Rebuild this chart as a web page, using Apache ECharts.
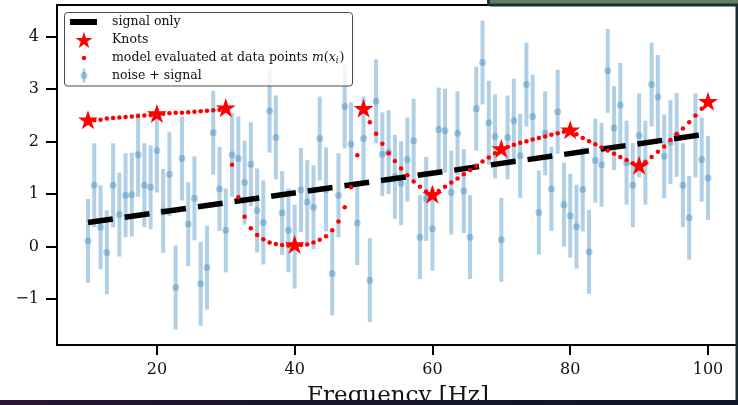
<!DOCTYPE html>
<html>
<head>
<meta charset="utf-8">
<script src="https://cdn.jsdelivr.net/npm/echarts@6/dist/echarts.min.js"></script>
<style>
html,body{margin:0;padding:0;background:#fff;}
#chart{width:738px;height:405px;}
</style>
</head>
<body>
<div id="chart"></div>
<script>
// ---- data ----
const dataX = [
  10.00,10.91,11.82,12.73,13.64,14.55,15.45,16.36,17.27,18.18,19.09,
  20.00,20.91,21.82,22.73,23.64,24.55,25.45,26.36,27.27,28.18,29.09,
  30.00,30.91,31.82,32.73,33.64,34.55,35.45,36.36,37.27,38.18,39.09,
  40.00,40.91,41.82,42.73,43.64,44.55,45.45,46.36,47.27,48.18,49.09,
  50.00,50.91,51.82,52.73,53.64,54.55,55.45,56.36,57.27,58.18,59.09,
  60.00,60.91,61.82,62.73,63.64,64.55,65.45,66.36,67.27,68.18,69.09,
  70.00,70.91,71.82,72.73,73.64,74.55,75.45,76.36,77.27,78.18,79.09,
  80.00,80.91,81.82,82.73,83.64,84.55,85.45,86.36,87.27,88.18,89.09,
  90.00,90.91,91.82,92.73,93.64,94.55,95.45,96.36,97.27,98.18,99.09,
  100.00
];
const dataY = [
  0.11,1.17,0.37,-0.11,1.17,0.61,0.98,0.99,1.75,1.17,1.13,
  1.83,0.68,1.38,-0.78,1.68,0.43,0.92,-0.71,-0.40,2.17,1.10,
  0.31,1.75,1.68,1.22,1.57,0.69,0.46,2.59,2.08,0.64,0.31,
  0.00,1.08,0.85,0.75,2.06,1.09,-0.51,0.98,2.67,1.95,0.45,
  2.06,-0.64,2.77,1.76,1.80,1.33,1.21,1.66,2.02,0.18,0.91,
  0.34,2.23,2.21,1.03,2.16,1.06,0.18,2.63,3.51,2.36,2.10,
  0.13,2.08,2.40,1.73,3.09,2.48,0.65,2.16,1.10,2.57,0.80,
  0.59,0.38,1.09,-0.10,1.64,1.56,3.35,2.26,2.70,1.60,1.17,
  2.12,1.60,3.09,2.85,1.72,1.99,2.13,1.17,0.55,2.12,1.66,
  1.31
];
const yErr = 0.8;
const modelY = [
  2.40,2.41,2.42,2.44,2.45,2.46,2.47,2.48,2.49,2.50,2.51,
  2.52,2.53,2.54,2.55,2.55,2.56,2.57,2.58,2.59,2.60,2.61,
  2.63,1.56,0.94,0.57,0.35,0.22,0.14,0.08,0.05,0.03,0.02,
  0.02,0.03,0.04,0.08,0.13,0.20,0.31,0.48,0.75,1.13,1.74,
  2.62,2.37,2.15,1.96,1.78,1.63,1.49,1.36,1.24,1.14,1.05,
  0.98,1.06,1.14,1.22,1.30,1.38,1.46,1.54,1.62,1.70,1.78,
  1.85,1.90,1.94,1.98,2.01,2.04,2.07,2.10,2.13,2.16,2.19,
  2.21,2.14,2.07,2.01,1.95,1.89,1.83,1.77,1.71,1.65,1.59,
  1.53,1.61,1.71,1.81,1.91,2.03,2.14,2.25,2.37,2.50,2.63,
  2.75
];
const knotX = [10,20,30,40,50,60,70,80,90,100];
const knotY = [2.40,2.52,2.63,0.02,2.62,0.98,1.85,2.21,1.53,2.75];
const signalX = [10,100];
const signalY = [0.46,2.15];
const xTicks = [20,40,60,80,100];
const xTickLabels = ['20','40','60','80','100'];
const yTicks = [-1,0,1,2,3,4];
const yTickLabels = ['\u22121','0','1','2','3','4'];
const legendNames = ['signal only','Knots','model evaluated at data points ','noise + signal'];
const xAxisName = 'Frequency [Hz]';

// ---- styling ----
const FONT = '"DejaVu Serif", serif';
const BLUE = 'rgba(31,119,180,0.35)';
const LEG_FONT = '12.5px ' + FONT;

function starVertices(R){
  const v = [];
  for (let k = 0; k < 10; k++) {
    const r = (k % 2 === 0) ? R : R * 0.382;
    const a = -Math.PI / 2 + k * Math.PI / 5;
    v.push([r * Math.cos(a), r * Math.sin(a)]);
  }
  return v;
}
function starPathData(){
  return starVertices(1).map((p, k) => (k ? 'L' : 'M') + p[0].toFixed(4) + ',' + p[1].toFixed(4)).join('') + 'Z';
}
const STAR = starPathData();

const pts = dataX.map((x, i) => [x, dataY[i], yErr]);
const model = dataX.map((x, i) => [x, modelY[i]]);
const knots = knotX.map((x, i) => [x, knotY[i]]);
const signal = signalX.map((x, i) => [x, signalY[i]]);

const chart = echarts.init(document.getElementById('chart'), null, {renderer: 'canvas'});

const legendRowsY = [22, 40, 58, 75.5];
const legendTextX = 112;
const iconX = 84;

const option = {
  animation: false,
  backgroundColor: '#ffffff',
  grid: {
    left: 57, top: 5, width: 682, height: 340,
    show: true, borderColor: '#000', borderWidth: 2, backgroundColor: 'transparent',
    containLabel: false, outerBoundsMode: 'none'
  },
  xAxis: {
    type: 'value', min: 5.5, max: 104.5,
    name: xAxisName, nameLocation: 'middle', nameGap: 40, nameMoveOverlap: false,
    nameTextStyle: {fontFamily: FONT, fontSize: 23, color: '#111'},
    axisLine: {show: true, onZero: false, lineStyle: {color: '#000', width: 2}},
    axisTick: {show: true, length: 10, customValues: xTicks, lineStyle: {color: '#000', width: 2}},
    axisLabel: {
      customValues: xTicks, margin: 17, fontFamily: FONT, fontSize: 16, color: '#111',
      formatter: v => { const k = xTicks.indexOf(v); return k >= 0 ? xTickLabels[k] : ''; }
    },
    splitLine: {show: false}
  },
  yAxis: {
    type: 'value', min: -1.875, max: 4.605,
    axisLine: {show: true, onZero: false, lineStyle: {color: '#000', width: 2}},
    axisTick: {show: true, length: 11, customValues: yTicks, lineStyle: {color: '#000', width: 2}},
    axisLabel: {
      customValues: yTicks, margin: 18, fontFamily: FONT, fontSize: 16, color: '#111',
      formatter: v => { const k = yTicks.indexOf(v); return k >= 0 ? yTickLabels[k] : ''; }
    },
    splitLine: {show: false}
  },
  series: [
    {
      name: legendNames[3] + ' errorbars',
      type: 'custom', z: 2,
      data: pts,
      renderItem: function (params, api) {
        const x = api.value(0), y = api.value(1), e = api.value(2);
        const top = api.coord([x, y + e]);
        const bot = api.coord([x, y - e]);
        return {
          type: 'rect',
          shape: {x: top[0] - 2, y: top[1], width: 4, height: bot[1] - top[1]},
          style: {fill: BLUE}
        };
      }
    },
    {
      name: legendNames[3], type: 'scatter', z: 3,
      data: pts.map(p => [p[0], p[1]]),
      symbol: 'circle', symbolSize: 7,
      itemStyle: {color: BLUE, opacity: 1}
    },
    {
      name: legendNames[0], type: 'line', z: 4,
      data: signal, showSymbol: false, symbol: 'none',
      lineStyle: {color: '#000', width: 5.5, type: [25, 12], cap: 'butt', opacity: 1}
    },
    {
      name: legendNames[2], type: 'scatter', z: 5,
      data: model, symbol: 'circle', symbolSize: 4.5,
      itemStyle: {color: '#ff0000', opacity: 1}
    },
    {
      name: legendNames[1], type: 'scatter', z: 6,
      data: knots, symbol: 'path://' + STAR, symbolSize: 20, symbolKeepAspect: true,
      symbolOffset: [0, -1],
      itemStyle: {color: '#ff0000', opacity: 1}
    }
  ],
  graphic: [
    // legend frame
    {type: 'rect', z: 100, shape: {x: 64.5, y: 12.5, width: 288, height: 73.5, r: 3},
      style: {fill: 'rgba(255,255,255,0.8)', stroke: '#4a4a4a', lineWidth: 1}},
    // signal only icon
    {type: 'rect', z: 101, shape: {x: 70, y: legendRowsY[0] - 3, width: 27, height: 6}, style: {fill: '#000'}},
    {type: 'text', z: 101, style: {text: legendNames[0], x: legendTextX, y: legendRowsY[0], verticalAlign: 'middle',
      font: LEG_FONT, fill: '#111'}},
    // knots icon
    {type: 'polygon', z: 101, x: iconX, y: legendRowsY[1] + 0.8,
      shape: {points: starVertices(9)}, style: {fill: '#ff0000'}},
    {type: 'text', z: 101, style: {text: legendNames[1], x: legendTextX, y: legendRowsY[1], verticalAlign: 'middle',
      font: LEG_FONT, fill: '#111'}},
    // model icon
    {type: 'circle', z: 101, shape: {cx: iconX, cy: legendRowsY[2], r: 2.2}, style: {fill: '#ff0000'}},
    {type: 'text', z: 101, style: {
      text: legendNames[2] + '{it|m}({it|x}{sub|i})', x: legendTextX, y: legendRowsY[2], verticalAlign: 'middle',
      font: LEG_FONT, fill: '#111',
      rich: {
        it: {fontFamily: FONT, fontSize: 12.5, fontStyle: 'italic', fill: '#111'},
        sub: {fontFamily: FONT, fontSize: 8.5, fontStyle: 'italic', fill: '#111', verticalAlign: 'bottom', padding: [6, 1, 0, 0]}
      }
    }},
    // noise + signal icon
    {type: 'rect', z: 101, shape: {x: iconX - 1.5, y: legendRowsY[3] - 7, width: 3, height: 14}, style: {fill: BLUE}},
    {type: 'circle', z: 101, shape: {cx: iconX, cy: legendRowsY[3], r: 3.5}, style: {fill: BLUE}},
    {type: 'text', z: 101, style: {text: legendNames[3], x: legendTextX, y: legendRowsY[3], verticalAlign: 'middle',
      font: LEG_FONT, fill: '#111'}},
    // surrounding slide decorations
    {type: 'rect', z: 200, shape: {x: 487, y: 0, width: 251, height: 6.5, r: [0, 0, 0, 4]}, style: {fill: '#16313a'}},
    {type: 'rect', z: 201, shape: {x: 490, y: 0, width: 248, height: 3.5}, style: {fill: '#627f5f'}},
    {type: 'rect', z: 200, shape: {x: 735.5, y: 0, width: 2.5, height: 405}, style: {fill: '#1d2b33'}},
    {type: 'rect', z: 200, shape: {x: 0, y: 400, width: 738, height: 5},
      style: {fill: new echarts.graphic.LinearGradient(0, 0, 1, 0, [
        {offset: 0, color: '#2a1634'}, {offset: 0.4, color: '#17142c'}, {offset: 1, color: '#101529'}])}}
  ]
};
chart.setOption(option);
</script>
</body>
</html>
